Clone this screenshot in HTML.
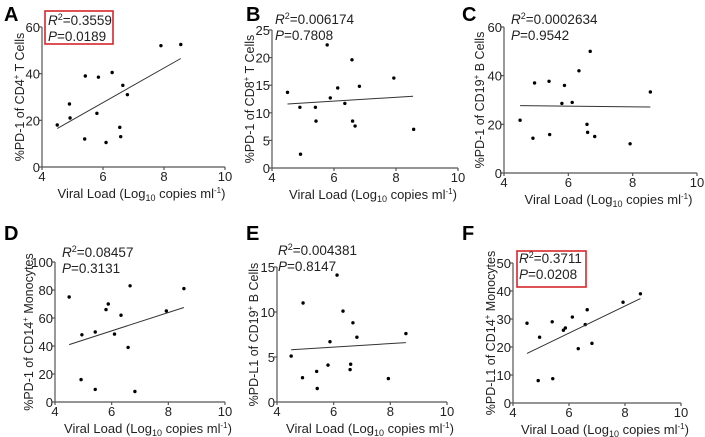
<!DOCTYPE html>
<html><head><meta charset="utf-8">
<style>
html,body{margin:0;padding:0;background:#fff;}
svg{display:block;font-family:"Liberation Sans",Arial,sans-serif;}
</style></head>
<body>
<svg id="fig" width="705" height="437" viewBox="0 0 705 437"></svg>
<script>
// Panel data (x = viral load log10, y = percentage)
const xTicks = [4,6,8,10];
const aX = [4.5,4.9,4.92,5.4,5.42,5.8,5.85,6.1,6.3,6.55,6.58,6.65,6.8,7.9,8.55];
const aY = [18,27,21,12,39,23,38.5,10.5,40.5,17,13,35,31,52,52.5];
const aFit = [16.5,46.5];
const bX = [4.5,4.9,4.92,5.4,5.42,5.78,5.88,6.12,6.35,6.58,6.6,6.68,6.82,7.93,8.57];
const bY = [13.7,11,2.5,11,8.5,22.3,12.7,14.5,11.7,19.6,8.5,7.6,14.8,16.3,7];
const bFit = [11.6,13.0];
const cX = [4.5,4.9,4.95,5.4,5.42,5.8,5.88,6.12,6.33,6.58,6.6,6.68,6.82,7.92,8.55];
const cY = [21.7,14.3,37,37.7,15.8,28.6,36,29,42,20,16.7,50,15,12,33.3];
const cFit = [27.7,27.1];
const dX = [4.5,4.92,4.95,5.42,5.42,5.8,5.88,6.1,6.33,6.58,6.65,6.82,7.93,8.55];
const dY = [75,16,48,50,9,66,70,48.5,62,39,83,7.5,65,81];
const dFit = [41,67.5];
const eX = [4.5,4.9,4.92,5.4,5.42,5.8,5.87,6.12,6.33,6.58,6.6,6.68,6.82,7.93,8.55];
const eY = [5.1,2.7,11,3.4,1.5,4.1,6.7,14.1,10.1,3.6,4.2,8.8,7.2,2.6,7.6];
const eFit = [5.8,6.6];
const fX = [4.5,4.9,4.95,5.4,5.42,5.8,5.87,6.12,6.33,6.58,6.65,6.82,7.93,8.55];
const fY = [28.5,8,23.5,29,8.7,26,26.8,30.7,19.4,28,33.3,21.3,36,39];
const fFit = [17.7,37.3];
const fitX = [4.5,8.55];
const aTicks=[0,20,40,60], bTicks=[0,5,10,15,20,25], cTicks=[0,20,40,60];
const dTicks=[0,20,40,60,80,100], eTicks=[0,5,10,15], fTicks=[0,10,20,30,40,50];

const NS="http://www.w3.org/2000/svg";
const svg=document.getElementById('fig');
function mk(tag,attrs,parent,text){const e=document.createElementNS(NS,tag);for(const k in attrs)e.setAttribute(k,attrs[k]);if(text!==undefined)e.textContent=text;(parent||svg).appendChild(e);return e;}

const panels=[
 {id:'a',letter:'A',lx:4,ly:21,x0:42,x1:225,y0:167,y1:27,ymax:60,yt:aTicks,xs:aX,ys:aY,fit:aFit,tx:20,
  title:['%PD-1 of CD4','+',' T Cells'],r2:'0.3559',p:'0.0189',sx:48,sy:28,box:[45,11,68,33]},
 {id:'b',letter:'B',lx:246,ly:21,x0:272,x1:458,y0:168,y1:30,ymax:25,yt:bTicks,xs:bX,ys:bY,fit:bFit,tx:250,
  title:['%PD-1 of CD8','+',' T Cells'],r2:'0.006174',p:'0.7808',sx:275,sy:27},
 {id:'c',letter:'C',lx:462,ly:21,x0:504,x1:697,y0:173,y1:27,ymax:60,yt:cTicks,xs:cX,ys:cY,fit:cFit,tx:480,
  title:['%PD-1 of CD19','+',' B Cells'],r2:'0.0002634',p:'0.9542',sx:511,sy:27},
 {id:'d',letter:'D',lx:4,ly:240,x0:55,x1:225,y0:402,y1:262,ymax:100,yt:dTicks,xs:dX,ys:dY,fit:dFit,tx:29,
  title:['%PD-1 of CD14','+',' Monocytes'],r2:'0.08457',p:'0.3131',sx:62,sy:260},
 {id:'e',letter:'E',lx:246,ly:240,x0:277,x1:447,y0:402,y1:267,ymax:15,yt:eTicks,xs:eX,ys:eY,fit:eFit,tx:254,
  title:['%PD-L1 of CD19','+',' B Cells'],r2:'0.004381',p:'0.8147',sx:278,sy:258},
 {id:'f',letter:'F',lx:462,ly:240,x0:513,x1:681,y0:403,y1:263,ymax:50,yt:fTicks,xs:fX,ys:fY,fit:fFit,tx:491,
  title:['%PD-L1 of CD14','+',' Monocytes'],r2:'0.3711',p:'0.0208',sx:519,sy:266,box:[517,251,69,36]}
];

panels.forEach(P=>{
  const g=mk('g',{});
  
  
  const sx=v=>P.x0+(v-4)/6*(P.x1-P.x0);
  const sy=v=>P.y0-v/P.ymax*(P.y0-P.y1);
  const L=mk('text',{x:P.lx,y:P.ly,'font-size':20,'font-weight':'bold',fill:'#000'},g,P.letter);
  
  
  const ax=mk('g',{stroke:'#555','stroke-width':1.2},g);
  
  
  mk('line',{x1:P.x0,y1:P.y0,x2:P.x1,y2:P.y0},ax);
  mk('line',{x1:P.x0,y1:P.y0,x2:P.x0,y2:P.y1},ax);
  P.yt.forEach(t=>{
    mk('line',{x1:P.x0-3,y1:sy(t),x2:P.x0,y2:sy(t)},ax);
    const tl=mk('text',{x:P.x0-2,y:sy(t)+5,'font-size':13,'text-anchor':'end',fill:'#222',stroke:'none'},g,t);
    
    
  });
  xTicks.forEach(t=>{
    mk('line',{x1:sx(t),y1:P.y0,x2:sx(t),y2:P.y0+3},ax);
    const tl=mk('text',{x:sx(t),y:P.y0+14,'font-size':13,'text-anchor':'middle',fill:'#222'},g,t);
    
    
  });
  const xt=mk('text',{x:(P.x0+P.x1)/2+8,y:P.y0+31,'font-size':13,'text-anchor':'middle',fill:'#222'},g);
  
  
  mk('tspan',{},xt,'Viral Load (Log');
  mk('tspan',{'font-size':9,dy:3},xt,'10');
  mk('tspan',{dy:-3},xt,' copies ml');
  mk('tspan',{'font-size':8,dy:-5},xt,'-1');
  mk('tspan',{dy:5},xt,')');
  const cy=(P.y0+P.y1)/2;
  const yt=mk('text',{x:0,y:0,'font-size':12.5,'text-anchor':'middle',fill:'#222',transform:`translate(${P.tx+4},${cy}) rotate(-90)`},g);
  
  
  mk('tspan',{},yt,P.title[0]);
  mk('tspan',{'font-size':8,dy:-5},yt,P.title[1]);
  mk('tspan',{dy:5},yt,P.title[2]);
  P.xs.forEach((x,i)=>{
    const c=mk('circle',{cx:sx(x),cy:sy(P.ys[i]),r:1.7,fill:'#000'},g);
    
    
  });
  const fl=mk('line',{x1:sx(fitX[0]),y1:sy(P.fit[0]),x2:sx(fitX[1]),y2:sy(P.fit[1]),stroke:'#333','stroke-width':1},g);
  
  
  if(P.box){
    const b=mk('rect',{x:P.box[0],y:P.box[1],width:P.box[2],height:P.box[3],fill:'none',stroke:'#d6262b','stroke-width':1.6},g);
    
    
  }
  const s1=mk('text',{x:P.sx,y:P.sy-3,'font-size':13.5,fill:'#222'},g);
  
  
  mk('tspan',{'font-style':'italic'},s1,'R');
  mk('tspan',{'font-size':9,dy:-5},s1,'2');
  mk('tspan',{dy:5},s1,'='+P.r2);
  const s2=mk('text',{x:P.sx,y:P.sy+13,'font-size':13.5,fill:'#222'},g);
  
  
  mk('tspan',{'font-style':'italic'},s2,'P');
  mk('tspan',{},s2,'='+P.p);
});
</script>
</body></html>
